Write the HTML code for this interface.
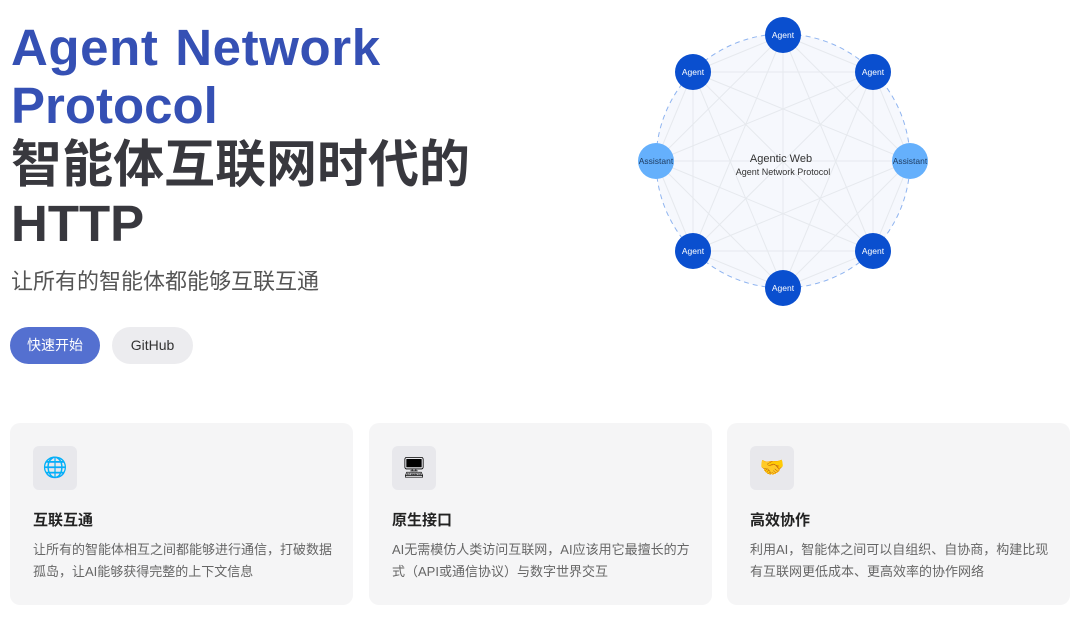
<!DOCTYPE html>
<html><head><meta charset="utf-8"><style>
*{margin:0;padding:0;box-sizing:border-box}
body{width:1080px;height:617px;background:#fff;position:relative;overflow:hidden;font-family:"Liberation Sans","Noto Sans CJK SC",sans-serif}
.t{position:absolute;left:11px;font-weight:bold;font-size:51px;line-height:58px;white-space:nowrap}
.blue{color:#3550b4}
.dark{color:#38383e}
.sub{position:absolute;left:11px;top:268px;font-size:22px;color:#555;line-height:28px}
.btn{position:absolute;top:327px;height:37px;border-radius:19px;font-size:14px;line-height:37px;text-align:center}
.card{position:absolute;top:423px;width:343px;height:182px;background:#f5f5f6;border-radius:10px}
.ic{position:absolute;left:23px;top:23px;width:44px;height:44px;background:#e8e8ec;border-radius:6px;font-size:20px;text-align:center;line-height:44px}
.ct{position:absolute;left:23px;top:86px;font-size:15px;font-weight:bold;color:#222}
.cd{position:absolute;left:23px;top:116px;font-size:13px;color:#666;line-height:22px;width:300px}
</style></head><body>
<div class="t blue" style="top:19px;letter-spacing:0.6px;word-spacing:2px">Agent Network</div>
<div class="t blue" style="top:77px">Protocol</div>
<div class="t dark" style="top:136px">智能体互联网时代的</div>
<div class="t dark" style="top:195px">HTTP</div>
<div class="sub">让所有的智能体都能够互联互通</div>
<div class="btn" style="left:10px;width:90px;background:#5470d0;color:#fff">快速开始</div>
<div class="btn" style="left:112px;width:81px;background:#ececef;color:#333">GitHub</div>
<svg style="position:absolute;left:0;top:0" width="1080" height="420" font-family="Liberation Sans, sans-serif">
<circle cx="783" cy="161" r="127" fill="#f6f8fd" stroke="#8fb4f0" stroke-dasharray="5,4"/>
<g stroke="#e6e9ee" stroke-width="1" id="ln"></g>
<g id="nd"></g>
<text x="781" y="162" text-anchor="middle" font-size="11" fill="#333">Agentic Web</text>
<text x="783" y="175" text-anchor="middle" font-size="9" fill="#333">Agent Network Protocol</text>
<script>
var pts=[[783,35,'Agent',0],[873,72,'Agent',0],[910,161,'Assistant',1],[873,251,'Agent',0],[783,288,'Agent',0],[693,251,'Agent',0],[656,161,'Assistant',1],[693,72,'Agent',0]];
var ns="http://www.w3.org/2000/svg",ln=document.getElementById('ln'),nd=document.getElementById('nd');
for(var i=0;i<8;i++)for(var j=i+1;j<8;j++){var l=document.createElementNS(ns,'line');l.setAttribute('x1',pts[i][0]);l.setAttribute('y1',pts[i][1]);l.setAttribute('x2',pts[j][0]);l.setAttribute('y2',pts[j][1]);ln.appendChild(l);}
pts.forEach(function(p){var c=document.createElementNS(ns,'circle');c.setAttribute('cx',p[0]);c.setAttribute('cy',p[1]);c.setAttribute('r',18);c.setAttribute('fill',p[3]?'#65b0fc':'#0a4fcf');nd.appendChild(c);var t=document.createElementNS(ns,'text');t.setAttribute('x',p[0]);t.setAttribute('y',p[1]+3);t.setAttribute('text-anchor','middle');t.setAttribute('font-size','8.5');t.setAttribute('fill',p[3]?'#1d3a5e':'#fff');t.textContent=p[2];nd.appendChild(t);});
</script>
</svg>
<div class="card" style="left:10px"><div class="ic">🌐</div><div class="ct">互联互通</div><div class="cd">让所有的智能体相互之间都能够进行通信，打破数据孤岛，让AI能够获得完整的上下文信息</div></div>
<div class="card" style="left:369px"><div class="ic">🖥</div><div class="ct">原生接口</div><div class="cd">AI无需模仿人类访问互联网，AI应该用它最擅长的方式（API或通信协议）与数字世界交互</div></div>
<div class="card" style="left:727px"><div class="ic">🤝</div><div class="ct">高效协作</div><div class="cd">利用AI，智能体之间可以自组织、自协商，构建比现有互联网更低成本、更高效率的协作网络</div></div>
</body></html>
